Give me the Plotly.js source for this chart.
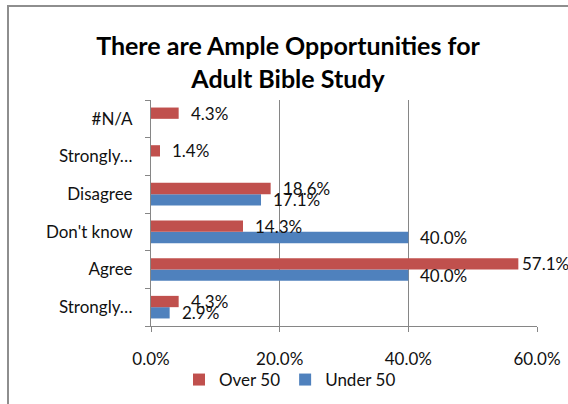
<!DOCTYPE html>
<html>
<head>
<meta charset="utf-8">
<script src="https://cdn.plot.ly/plotly-3.0.1.min.js"></script>
<style>
  html, body { margin: 0; padding: 0; background: #fff; overflow: hidden; }
  #chart { position: absolute; left: 0; top: 0; width: 568px; height: 404px; }
  #frame { position: absolute; left: 7px; top: 5px; width: 700px; height: 500px;
           border-left: 2px solid #8e8e8e; border-top: 2px solid #8e8e8e; pointer-events: none; }
</style>
</head>
<body>
<div id="chart"></div>
<div id="frame"></div>
<script>
// Categories listed bottom to top
const categories = ["Strongly Agree", "Agree", "Don't know", "Disagree", "Strongly Disagree", "#N/A"];
const tickLabels = ["Strongly…", "Agree", "Don't know", "Disagree", "Strongly…", "#N/A"];
const over50 = [4.3, 57.1, 14.3, 18.6, 1.4, 4.3];
const under50 = [2.9, 40.0, 40.0, 17.1, null, null];
const seriesNames = ["Under 50", "Over 50"];
const xTicks = [0, 20, 40, 60];

const RED = "#C0504D", BLUE = "#4F81BD";
const FONT = "Lato, 'Open Sans', sans-serif";

const traces = [
  { type: "bar", orientation: "h", name: seriesNames[0], y: categories, x: under50,
    marker: { color: BLUE }, hoverinfo: "x+name" },
  { type: "bar", orientation: "h", name: seriesNames[1], y: categories, x: over50,
    marker: { color: RED }, hoverinfo: "x+name" }
];

const annotations = [];
function addLabels(vals, yshift) {
  vals.forEach((v, i) => {
    if (v === null || v === undefined) return;
    annotations.push({
      x: v, y: categories[i], xref: "x", yref: "y",
      text: v.toFixed(1) + "%", showarrow: false,
      xanchor: "left", yanchor: "middle",
      xshift: v > 50 ? 2 : 10, yshift: yshift,
      font: { family: FONT, size: 17, color: "#111" }
    });
  });
}
addLabels(over50, 5.6);
addLabels(under50, -5.6);

const layout = {
  width: 568, height: 404,
  margin: { l: 151, r: 31, t: 100, b: 78 },
  paper_bgcolor: "#fff", plot_bgcolor: "#fff",
  barmode: "group", bargap: 0.4, bargroupgap: 0,
  font: { family: FONT, size: 17, color: "#111" },
  title: {
    text: "There are Ample Opportunities for<br>Adult Bible Study",
    font: { family: FONT, size: 25, color: "#000", weight: "bold" },
    x: 288 / 568, xanchor: "center", xref: "container",
    y: 1 - 55 / 404, yanchor: "middle", yref: "container"
  },
  xaxis: {
    range: [0, 60], tickvals: xTicks, ticktext: xTicks.map(t => t.toFixed(1) + "%"),
    showgrid: true, gridcolor: "#868686", gridwidth: 1,
    showline: true, linecolor: "#868686", linewidth: 1,
    ticks: "outside", ticklen: 5, tickcolor: "#868686",
    ticklabelstandoff: 13, zeroline: false, fixedrange: true, automargin: false
  },
  yaxis: {
    type: "category", categoryorder: "array", categoryarray: categories,
    tickvals: categories, ticktext: tickLabels,
    showline: true, linecolor: "#868686", linewidth: 1,
    ticks: "outside", ticklen: 5, tickcolor: "#868686", tickson: "boundaries",
    ticklabelstandoff: 14, showgrid: false, zeroline: false, fixedrange: true, automargin: false
  },
  showlegend: true,
  legend: {
    orientation: "h", traceorder: "reversed",
    x: 290 / 568, xanchor: "center", xref: "container",
    y: 1 - 380 / 404, yanchor: "middle", yref: "container",
    font: { family: FONT, size: 17, color: "#111" },
    itemwidth: 30, bgcolor: "rgba(0,0,0,0)"
  },
  annotations: annotations
};

Plotly.newPlot("chart", traces, layout, { displayModeBar: false, staticPlot: true });
</script>
</body>
</html>
